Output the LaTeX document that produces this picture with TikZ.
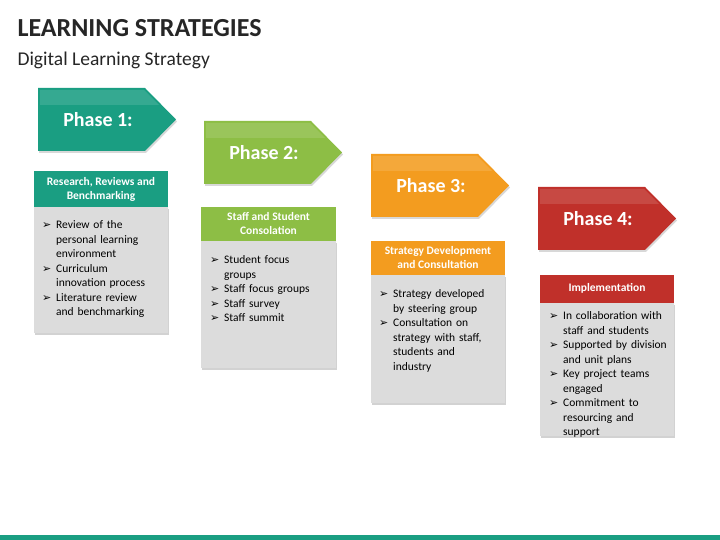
\documentclass[tikz,border=0pt]{standalone}
\usepackage{fontspec}
\setmainfont{Carlito}
\newfontfamily\symf{DejaVu Sans}
\usetikzlibrary{shadows}
\definecolor{cA}{HTML}{1A9E82}
\definecolor{cB}{HTML}{8DBE45}
\definecolor{cC}{HTML}{F39C1F}
\definecolor{cD}{HTML}{C0302A}
\definecolor{bodyg}{HTML}{DCDCDC}
\newcommand{\itm}[1]{\par\hangindent=14pt\hangafter=1\noindent\makebox[14pt][l]{\symf\fontsize{11}{10}\selectfont ➢}#1}
\tikzset{
  phasetxt/.style={text=white,font=\bfseries\fontsize{20}{22}\selectfont},
  headtxt/.style={text=white,font=\bfseries\fontsize{11.5}{14}\selectfont,align=center},
  bodytxt/.style={anchor=north west,inner sep=0pt,font=\fontsize{11.5}{14.5}\selectfont,text width=130pt},
}
\newcommand{\phase}[5]{% x0, y0, color, name, label
  \fill[#3,drop shadow={shadow xshift=1pt,shadow yshift=-2pt,opacity=0.3}] (#1,#2) -- ++(107,0) -- ++(31,-31.5) -- ++(-31,-31.5) -- ++(-107,0) -- cycle;
  \fill[white,opacity=0.12] (#1+2,#2-2) -- ++(104,0) -- ++(15,-15) -- ++(-119,0) -- cycle;
  \node[phasetxt] (#4) at (#1+60,#2-32) {#5};
}
\begin{document}
\begin{tikzpicture}[x=1pt,y=1pt]
\useasboundingbox (0,0) rectangle (720,540);
\fill[white] (0,0) rectangle (720,540);
\node[anchor=west,font=\bfseries\fontsize{26}{30}\selectfont,text=black!85] (title) at (14,512) {LEARNING STRATEGIES};
\node[anchor=west,font=\fontsize{19.5}{23}\selectfont,text=black!85] (sub) at (14,480) {Digital Learning Strategy};
\fill[cA] (0,0) rectangle (720,5);

\phase{38}{452}{cA}{p1}{Phase 1:}
\phase{204}{419}{cB}{p2}{Phase 2:}
\phase{371}{386}{cC}{p3}{Phase 3:}
\phase{538}{353}{cD}{p4}{Phase 4:}

\fill[bodyg,drop shadow={shadow xshift=1pt,shadow yshift=-2pt,opacity=0.35}] (34,333) rectangle (168,207);
\fill[cA] (34,369) rectangle (168,333);
\node[headtxt] (h1) at (101,351) {Research, Reviews and\\Benchmarking};
\node[bodytxt] (b1) at (42,326) {\raggedright\itm{Review of the\newline personal learning\newline environment}\itm{Curriculum\newline innovation process}\itm{Literature review\newline and benchmarking}\par};

\fill[bodyg,drop shadow={shadow xshift=1pt,shadow yshift=-2pt,opacity=0.35}] (201,299) rectangle (336,172);
\fill[cB] (201,333) rectangle (336,299);
\node[headtxt] (h2) at (268.5,316) {Staff and Student\\Consolation};
\node[bodytxt] (b2) at (210,291) {\raggedright\itm{Student focus\newline groups}\itm{Staff focus groups}\itm{Staff survey}\itm{Staff summit}\par};

\fill[bodyg,drop shadow={shadow xshift=1pt,shadow yshift=-2pt,opacity=0.35}] (371,265) rectangle (505,137);
\fill[cC] (371,299) rectangle (505,265);
\node[headtxt] (h3) at (438,282) {Strategy Development\\and Consultation};
\node[bodytxt] (b3) at (379,257) {\raggedright\itm{Strategy developed\newline by steering group}\itm{Consultation on\newline strategy with staff,\newline students and\newline industry}\par};

\fill[bodyg,drop shadow={shadow xshift=1pt,shadow yshift=-2pt,opacity=0.35}] (540,237) rectangle (674,104);
\fill[cD] (540,265) rectangle (674,237);
\node[headtxt] (h4) at (607,252) {Implementation};
\node[bodytxt] (b4) at (549,235) {\raggedright\itm{In collaboration with\newline staff and students}\itm{Supported by division\newline and unit plans}\itm{Key project teams\newline engaged}\itm{Commitment to\newline resourcing and\newline support}\par};
\end{tikzpicture}
\end{document}
